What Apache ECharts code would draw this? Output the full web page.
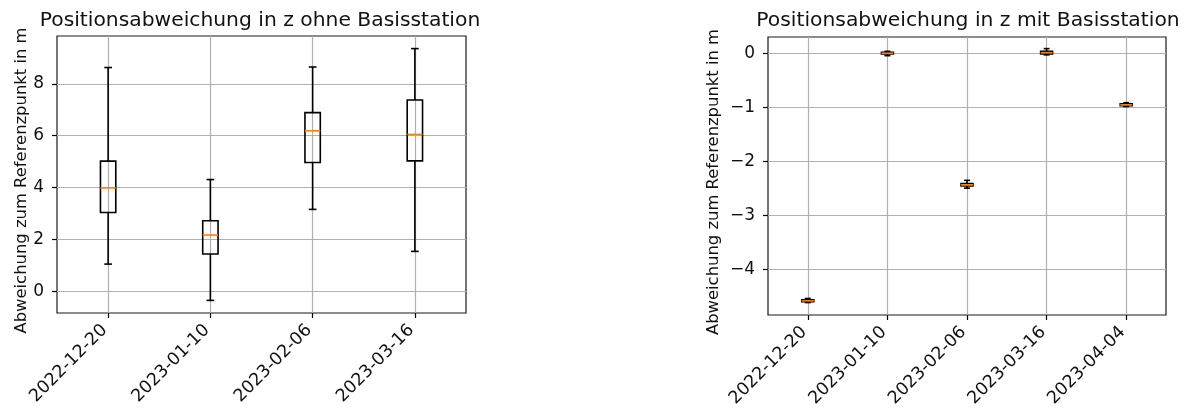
<!DOCTYPE html>
<html>
<head>
<meta charset="utf-8">
<script src="https://cdn.jsdelivr.net/npm/echarts@6/dist/echarts.min.js"></script>
<style>
  html, body { margin: 0; padding: 0; background: #fff; }
  #chart { width: 1191px; height: 412px; }
</style>
</head>
<body>
<div id="chart"></div>
<script>
// Measurement dates (x tick labels)
const datesOhne = ['2022-12-20', '2023-01-10', '2023-02-06', '2023-03-16'];
const datesMit = ['2022-12-20', '2023-01-10', '2023-02-06', '2023-03-16', '2023-04-04'];

// Box statistics per date: [lower whisker, Q1, median, Q3, upper whisker] in m
const boxesOhne = [
  [1.05, 3.04, 3.99, 5.02, 8.63],
  [-0.35, 1.44, 2.17, 2.72, 4.31],
  [3.16, 4.97, 6.19, 6.89, 8.65],
  [1.54, 5.03, 6.05, 7.38, 9.36]
];
const boxesMit = [
  [-4.61, -4.595, -4.578, -4.56, -4.535],
  [-0.045, -0.015, 0.0, 0.015, 0.035],
  [-2.495, -2.455, -2.434, -2.41, -2.35],
  [-0.03, -0.015, 0.01, 0.035, 0.085],
  [-0.985, -0.97, -0.956, -0.935, -0.915]
];

// Y tick values
const yTicksOhne = [0, 2, 4, 6, 8];
const yTicksMit = [-4, -3, -2, -1, 0];

const FONT = 'DejaVu Sans';
const BLACK = '#000';
const TEXT = '#111';
const GRID_GRAY = '#b0b0b0';
const MEDIAN_ORANGE = '#ff7f0e';

function fmtNum(v) {
  const r = Math.round(v);
  return r < 0 ? '\u2212' + Math.abs(r) : String(r);
}

function toRows(boxes) {
  return boxes.map((b, i) => [i + 1].concat(b));
}

// Box drawn as an unfilled rectangle with whiskers, half-width caps and an orange median
function renderBox(params, api) {
  const x = api.value(0);
  const lo = api.coord([x, api.value(1)]);
  const q1 = api.coord([x, api.value(2)]);
  const med = api.coord([x, api.value(3)]);
  const q3 = api.coord([x, api.value(4)]);
  const hi = api.coord([x, api.value(5)]);
  const unit = api.size([1, 0])[0];
  const bw = unit * 0.15;
  const cw = bw / 2;
  const cx = lo[0];
  const lineStyle = { stroke: BLACK, lineWidth: 1.6, fill: null };
  return {
    type: 'group',
    children: [
      { type: 'line', shape: { x1: cx, y1: lo[1], x2: cx, y2: q1[1] }, style: lineStyle },
      { type: 'line', shape: { x1: cx, y1: q3[1], x2: cx, y2: hi[1] }, style: lineStyle },
      { type: 'line', shape: { x1: cx - cw / 2, y1: lo[1], x2: cx + cw / 2, y2: lo[1] }, style: lineStyle },
      { type: 'line', shape: { x1: cx - cw / 2, y1: hi[1], x2: cx + cw / 2, y2: hi[1] }, style: lineStyle },
      { type: 'rect', shape: { x: cx - bw / 2, y: q3[1], width: bw, height: q1[1] - q3[1] }, style: lineStyle },
      { type: 'line', shape: { x1: cx - bw / 2, y1: med[1], x2: cx + bw / 2, y2: med[1] }, style: { stroke: MEDIAN_ORANGE, lineWidth: 1.6 } }
    ]
  };
}

function xAxisFor(gridIndex, dates) {
  const ticks = dates.map((d, i) => i + 1);
  return {
    type: 'value',
    gridIndex: gridIndex,
    min: 0.5,
    max: dates.length + 0.5,
    axisLine: { show: false, onZero: false },
    axisTick: { show: true, customValues: ticks, length: 5, inside: false, lineStyle: { color: BLACK, width: 1.2 } },
    axisLabel: {
      customValues: ticks,
      rotate: 45,
      margin: 11,
      padding: [0, 5, 0, 0],
      fontFamily: FONT,
      fontSize: 17.5,
      color: TEXT,
      formatter: v => dates[Math.round(v) - 1] || ''
    },
    splitLine: { show: true, lineStyle: { color: GRID_GRAY, width: 1.2 } }
  };
}

function yAxisFor(gridIndex, min, max, ticks, nameGap) {
  return {
    type: 'value',
    gridIndex: gridIndex,
    min: min,
    max: max,
    name: 'Abweichung zum Referenzpunkt in m',
    nameLocation: 'middle',
    nameGap: nameGap,
    nameTextStyle: { fontFamily: FONT, fontSize: 16.4, color: TEXT, padding: [0, 12, 0, 0] },
    axisLine: { show: false, onZero: false },
    axisTick: { show: true, customValues: ticks, length: 5, lineStyle: { color: BLACK, width: 1.2 } },
    axisLabel: {
      customValues: ticks,
      margin: 13,
      fontFamily: FONT,
      fontSize: 17,
      color: TEXT,
      formatter: fmtNum
    },
    splitLine: { show: true, lineStyle: { color: GRID_GRAY, width: 1.2 } }
  };
}

const chart = echarts.init(document.getElementById('chart'), null, { renderer: 'canvas' });

chart.setOption({
  backgroundColor: '#fff',
  animation: false,
  title: [
    {
      text: 'Positionsabweichung in z ohne Basisstation',
      left: 255, top: 6, textAlign: 'center',
      textStyle: { fontFamily: FONT, fontSize: 20.3, fontWeight: 'normal', color: TEXT }
    },
    {
      text: 'Positionsabweichung in z mit Basisstation',
      left: 963, top: 6, textAlign: 'center',
      textStyle: { fontFamily: FONT, fontSize: 20.3, fontWeight: 'normal', color: TEXT }
    }
  ],
  grid: [
    { left: 57, top: 36, width: 409, height: 277, show: true, borderColor: '#1a1a1a', borderWidth: 1.2, backgroundColor: 'transparent' },
    { left: 768, top: 37, width: 398, height: 278, show: true, borderColor: '#1a1a1a', borderWidth: 1.2, backgroundColor: 'transparent' }
  ],
  xAxis: [xAxisFor(0, datesOhne), xAxisFor(1, datesMit)],
  yAxis: [
    yAxisFor(0, -0.836, 9.846, yTicksOhne, 25),
    yAxisFor(1, -4.84, 0.30, yTicksMit, 46)
  ],
  series: [
    {
      type: 'custom', name: 'ohne Basisstation',
      xAxisIndex: 0, yAxisIndex: 0,
      renderItem: renderBox,
      encode: { x: 0, y: [1, 2, 3, 4, 5] },
      data: toRows(boxesOhne),
      z: 5
    },
    {
      type: 'custom', name: 'mit Basisstation',
      xAxisIndex: 1, yAxisIndex: 1,
      renderItem: renderBox,
      encode: { x: 0, y: [1, 2, 3, 4, 5] },
      data: toRows(boxesMit),
      z: 5
    }
  ]
});
</script>
</body>
</html>
